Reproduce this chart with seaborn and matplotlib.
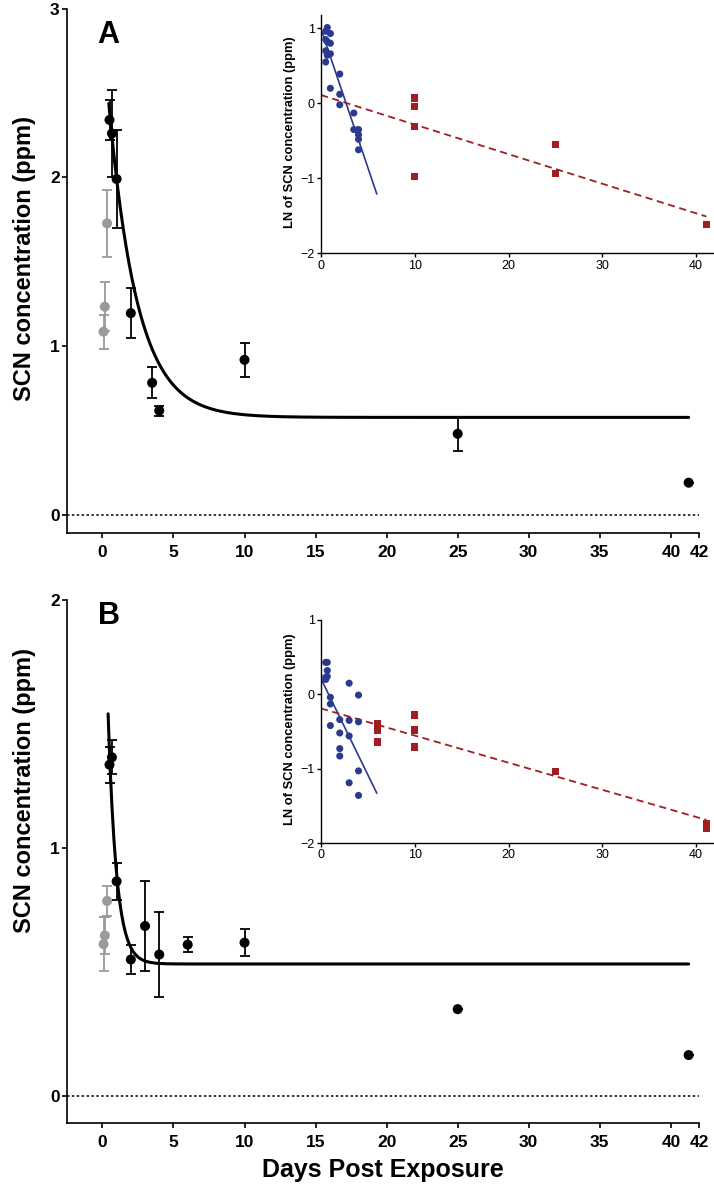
import numpy as np
import pandas as pd
import matplotlib
matplotlib.use("Agg")
import matplotlib.pyplot as plt
import seaborn as sns

# ---------------- data ----------------
# Panel A main (means +/- error)
a_days = [0.5, 0.67, 1, 2, 3.5, 4, 10, 25, 41.25]
a_mean = [2.34, 2.26, 1.99, 1.195, 0.782, 0.617, 0.918, 0.48, 0.19]
a_err = [0.12, 0.26, 0.29, 0.15, 0.093, 0.03, 0.10, 0.10, 0.0]
a_gray_days = [0.33, 0.17, 0.08]
a_gray_mean = [1.727, 1.233, 1.085]
a_gray_err = [0.20, 0.145, 0.10]
# one-phase decay fit (plateau, span at day 0, rate), drawn from x_start to x_end
a_fit_plateau = 0.577
a_fit_span = 2.33
a_fit_k = 0.5
a_fit_range = [0.45, 41.25]

# Panel B main
b_days = [0.5, 0.67, 1, 2, 3, 4, 6, 10, 25, 41.25]
b_mean = [1.335, 1.365, 0.865, 0.55, 0.685, 0.57, 0.61, 0.618, 0.35, 0.165]
b_err = [0.072, 0.068, 0.075, 0.06, 0.18, 0.17, 0.03, 0.055, 0.0, 0.0]
b_gray_days = [0.33, 0.17, 0.08]
b_gray_mean = [0.786, 0.647, 0.612]
b_gray_err = [0.06, 0.075, 0.11]
b_fit_plateau = 0.532
b_fit_span = 1.99
b_fit_k = 1.7
b_fit_range = [0.40, 41.25]

# Inset A (LN of SCN concentration)
ia_blue_x = [0.5, 0.5, 0.5, 0.5, 0.67, 0.67, 0.67, 1, 1, 1, 1, 2, 2, 2, 3.5, 3.5, 4, 4, 4, 4]
ia_blue_y = [0.85, 0.70, 0.96, 0.55, 1.01, 0.82, 0.64, 0.93, 0.80, 0.66, 0.20,
             0.39, 0.12, -0.02, -0.13, -0.35, -0.35, -0.42, -0.48, -0.62]
ia_red_x = [10, 10, 10, 10, 25, 25, 41.1]
ia_red_y = [0.07, -0.04, -0.31, -0.98, -0.55, -0.94, -1.62]
ia_blue_line_x = [0, 5.95]
ia_blue_line_y = [0.99, -1.21]
ia_red_line_x = [0, 41.1]
ia_red_line_y = [0.11, -1.51]

# Inset B
ib_blue_x = [0.5, 0.5, 0.5, 0.67, 0.67, 0.67, 1, 1, 1, 2, 2, 2, 2, 3, 3, 3, 3, 4, 4, 4, 4]
ib_blue_y = [0.43, 0.23, 0.20, 0.43, 0.32, 0.24, -0.04, -0.13, -0.42,
             -0.34, -0.52, -0.73, -0.83, 0.15, -0.35, -0.56, -1.19, -0.01, -0.37, -1.03, -1.36]
ib_red_x = [6, 6, 6, 6, 10, 10, 10, 25, 41.1, 41.1]
ib_red_y = [-0.40, -0.45, -0.48, -0.64, -0.28, -0.48, -0.71, -1.04, -1.74, -1.80]
ib_blue_line_x = [0, 5.95]
ib_blue_line_y = [0.21, -1.33]
ib_red_line_x = [0, 41.1]
ib_red_line_y = [-0.19, -1.69]

main_xticks = [0, 5, 10, 15, 20, 25, 30, 35, 40, 42]
inset_xticks = [0, 10, 20, 30, 40]

# ---------------- style ----------------
sns.set_style("ticks")
plt.rcParams['font.family'] = ['Liberation Sans', 'DejaVu Sans']
plt.rcParams['axes.linewidth'] = 1.2
plt.rcParams['axes.edgecolor'] = 'black'
plt.rcParams['text.color'] = 'black'
plt.rcParams['axes.labelcolor'] = 'black'
plt.rcParams['xtick.color'] = 'black'
plt.rcParams['ytick.color'] = 'black'
plt.rcParams['xtick.major.width'] = 1.2
plt.rcParams['ytick.major.width'] = 1.2
plt.rcParams['xtick.major.size'] = 3.5
plt.rcParams['ytick.major.size'] = 3.5

BLUE = '#2b3990'
RED = '#a01e23'
GRAY = '#9a9a9a'

W, H = 714, 1190
fig = plt.figure(figsize=(W / 100, H / 100), dpi=100)


def px_axes(left, top, right, bottom):
    return fig.add_axes([left / W, 1 - bottom / H, (right - left) / W, (bottom - top) / H])


def main_panel(ax, days, mean, err, gdays, gmean, gerr, plateau, span, k, frange, ylim, yticks, letter, ylab_y):
    ax.axhline(0, color='black', lw=1.1, ls=(0, (1.6, 1.6)), zorder=1)
    ax.errorbar(gdays, gmean, yerr=gerr, fmt='none', ecolor=GRAY, elinewidth=1.3,
                capsize=3.9, capthick=1.3, zorder=2)
    ax.errorbar(days, mean, yerr=err, fmt='none', ecolor='black', elinewidth=1.3,
                capsize=3.9, capthick=1.3, zorder=3)
    xs = np.linspace(frange[0], frange[1], 600)
    fit = pd.DataFrame({'x': xs, 'y': plateau + span * np.exp(-k * xs)})
    sns.lineplot(data=fit, x='x', y='y', color='black', lw=2.2, ax=ax, zorder=4,
                 estimator=None, sort=False)
    sns.scatterplot(x=gdays, y=gmean, color=GRAY, s=52, edgecolor='none', ax=ax, zorder=5)
    sns.scatterplot(x=days, y=mean, color='black', s=52, edgecolor='none', ax=ax, zorder=6)
    ax.set_xlim(-2.47, 42)
    ax.set_ylim(*ylim)
    ax.set_xticks(main_xticks)
    ax.set_yticks(yticks)
    ax.tick_params(labelsize=12.5)
    for lab in ax.get_xticklabels() + ax.get_yticklabels():
        lab.set_fontweight('bold')
    ax.tick_params(axis='y', pad=2)
    ax.tick_params(axis='x', pad=5)
    sns.despine(ax=ax)
    ax.set_xlabel('')
    ax.set_ylabel('SCN concentration (ppm)', fontsize=17, fontweight='bold')
    ax.yaxis.set_label_coords(-0.05, ylab_y)
    ax.text(0.048, 0.978 if letter == 'A' else 0.997, letter, transform=ax.transAxes,
            fontsize=22, fontweight='bold', ha='left', va='top')


def inset_panel(ax, bx, by, rx, ry, blx, bly, rlx, rly, ylim, yticks):
    ax.set_facecolor('none')
    sns.lineplot(x=blx, y=bly, color=BLUE, lw=1.2, ax=ax, zorder=2)
    sns.lineplot(x=rlx, y=rly, color=RED, lw=1.3, ax=ax, zorder=2, linestyle=(0, (4, 2.5)))
    sns.scatterplot(x=bx, y=by, color=BLUE, s=26, edgecolor='none', ax=ax, zorder=3)
    sns.scatterplot(x=rx, y=ry, color=RED, s=28, marker='s', edgecolor='none', ax=ax, zorder=3)
    ax.set_xlim(0, 41.8)
    ax.set_ylim(*ylim)
    ax.set_xticks(inset_xticks)
    ax.set_yticks(yticks)
    ax.tick_params(labelsize=9, length=3, width=1.0, pad=1.5)
    for s in ax.spines.values():
        s.set_linewidth(1.0)
    sns.despine(ax=ax)
    ax.set_ylabel('LN of SCN concentration (ppm)', fontsize=9.3, fontweight='bold')
    ax.yaxis.set_label_coords(-0.063, 0.51)


axA = px_axes(67.3, 8.6, 699.3, 533.3)
main_panel(axA, a_days, a_mean, a_err, a_gray_days, a_gray_mean, a_gray_err,
           a_fit_plateau, a_fit_span, a_fit_k, a_fit_range, (-0.11, 3.0), [0, 1, 2, 3], 'A', 0.523)

axB = px_axes(67.3, 599.7, 699.3, 1123.3)
main_panel(axB, b_days, b_mean, b_err, b_gray_days, b_gray_mean, b_gray_err,
           b_fit_plateau, b_fit_span, b_fit_k, b_fit_range, (-0.11, 2.0), [0, 1, 2], 'B', 0.635)
axB.set_xlabel('Days Post Exposure', fontsize=18, fontweight='bold', labelpad=6)

iA = px_axes(321, 15, 713, 253.3)
inset_panel(iA, ia_blue_x, ia_blue_y, ia_red_x, ia_red_y, ia_blue_line_x, ia_blue_line_y,
            ia_red_line_x, ia_red_line_y, (-2, 1.177), [-2, -1, 0, 1])

iB = px_axes(321, 620, 713, 843)
inset_panel(iB, ib_blue_x, ib_blue_y, ib_red_x, ib_red_y, ib_blue_line_x, ib_blue_line_y,
            ib_red_line_x, ib_red_line_y, (-2, 1.0), [-2, -1, 0, 1])

fig.savefig('out.png', dpi=100)
